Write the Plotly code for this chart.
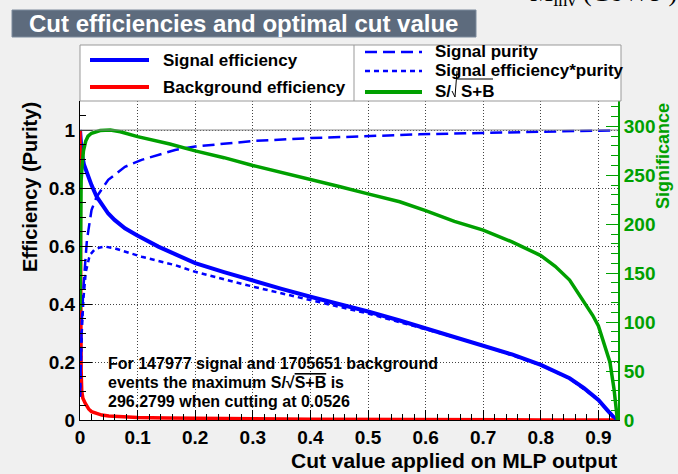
import plotly.graph_objects as go

# ---- figure geometry (pixels) ----
W, H = 678, 474
ML, MR, MT, MB = 80, 60, 101, 54


def px(x):
    return (x - ML) / (W - ML - MR)


def py(y):
    return (H - MB - y) / (H - MT - MB)


# ---- data: cut scan on MLP output ----
sig_eff_x = [0, 0.001, 0.003, 0.007, 0.014, 0.02, 0.029, 0.04, 0.049, 0.06, 0.078,
             0.098, 0.136, 0.165, 0.2, 0.25, 0.3, 0.35, 0.4, 0.45, 0.5, 0.555, 0.6,
             0.65, 0.7, 0.75, 0.8, 0.85, 0.875, 0.9, 0.915, 0.925, 0.931]
sig_eff_y = [1.0, 0.96, 0.919, 0.88, 0.839, 0.81, 0.77, 0.735, 0.712, 0.69, 0.661,
             0.638, 0.598, 0.572, 0.541, 0.51, 0.48, 0.452, 0.425, 0.4, 0.374, 0.343, 0.316,
             0.288, 0.259, 0.226, 0.19, 0.144, 0.11, 0.069, 0.035, 0.011, 0.0]

bkg_eff_x = [0, 0.0005, 0.001, 0.002, 0.003, 0.005, 0.009, 0.015, 0.02, 0.03, 0.038,
             0.05, 0.078, 0.1, 0.15, 0.2, 0.3, 0.4, 0.49, 0.5, 0.6, 0.7, 0.8, 0.931]
bkg_eff_y = [1.0, 0.6, 0.35, 0.17, 0.1, 0.075, 0.058, 0.038, 0.029, 0.021, 0.017,
             0.014, 0.011, 0.009, 0.007, 0.005, 0.004, 0.003, 0.002, 0.001, 0.0005, 0.0003, 0.0001, 0.0]

purity_x = [0, 0.0005, 0.001, 0.003, 0.006, 0.012, 0.02, 0.029, 0.049, 0.078, 0.107,
            0.165, 0.2, 0.3, 0.4, 0.5, 0.589, 0.7, 0.8, 0.9, 0.931]
purity_y = [0.08, 0.14, 0.2, 0.33, 0.46, 0.62, 0.724, 0.77, 0.828, 0.873, 0.897,
            0.931, 0.943, 0.962, 0.972, 0.98, 0.985, 0.99, 0.993, 0.997, 0.999]

effpur_x = [0, 0.001, 0.003, 0.006, 0.01, 0.017, 0.025, 0.035, 0.043, 0.06, 0.078,
            0.107, 0.165, 0.2, 0.3, 0.4, 0.5, 0.6, 0.7, 0.8, 0.85, 0.9, 0.925, 0.931]
effpur_y = [0.08, 0.19, 0.3, 0.42, 0.51, 0.569, 0.587, 0.595, 0.598, 0.592, 0.58,
            0.563, 0.534, 0.511, 0.46, 0.413, 0.367, 0.313, 0.257, 0.189, 0.143, 0.069, 0.011, 0.0]

signif_x = [0, 0.0005, 0.002, 0.004, 0.006, 0.01, 0.014, 0.02, 0.026, 0.035, 0.0526,
            0.07, 0.1, 0.156, 0.2, 0.25, 0.3, 0.35, 0.4, 0.45, 0.5, 0.555, 0.6, 0.65,
            0.7, 0.75, 0.8, 0.825, 0.85, 0.875, 0.89, 0.9, 0.911, 0.92, 0.927, 0.933]
signif_y = [112, 207, 245, 262, 275, 285, 290, 293, 294.5, 295.8, 296.28,
            294.5, 289.5, 282, 275, 268, 260, 253, 246, 238.5, 231, 223, 214, 203,
            194, 182, 168, 157, 143, 121, 107, 96, 76, 59, 32, 0]

n_signal = 147977
n_background = 1705651
max_signif = 296.2799
best_cut = 0.0526

x_max = 0.934
signif_max = 1.1 * max_signif

BLUE = "#0000ff"
RED = "#ff0000"
GREEN = "#00a000"
FONT = "Liberation Sans"

fig = go.Figure()
fig.add_trace(go.Scatter(x=sig_eff_x, y=sig_eff_y, mode="lines", name="Signal efficiency",
                         line=dict(color=BLUE, width=4)))
fig.add_trace(go.Scatter(x=bkg_eff_x, y=bkg_eff_y, mode="lines", name="Background efficiency",
                         line=dict(color=RED, width=3.5)))
fig.add_trace(go.Scatter(x=purity_x, y=purity_y, mode="lines", name="Signal purity",
                         line=dict(color=BLUE, width=2.5, dash="12px,6px")))
fig.add_trace(go.Scatter(x=effpur_x, y=effpur_y, mode="lines", name="Signal efficiency*purity",
                         line=dict(color=BLUE, width=2.5, dash="5px,4px")))
fig.add_trace(go.Scatter(x=signif_x, y=signif_y, mode="lines", name="S/sqrt(S+B)",
                         line=dict(color=GREEN, width=3.5), yaxis="y2"))

tickfont = dict(family=FONT, size=19, color="black", weight="bold")

fig.update_layout(
    width=W, height=H,
    margin=dict(l=ML, r=MR, t=MT, b=MB),
    paper_bgcolor="#f0f0f0",
    plot_bgcolor="white",
    showlegend=False,
    xaxis=dict(range=[0, x_max], tick0=0, dtick=0.1, ticks="inside", ticklen=10,
               tickcolor="black", showline=True, linecolor="black", linewidth=1,
               showgrid=True, gridcolor="#444", griddash="1px,2px", gridwidth=1,
               zeroline=False, tickfont=tickfont,
               minor=dict(dtick=0.02, ticks="inside", ticklen=6, tickcolor="black", showgrid=False)),
    yaxis=dict(range=[0, 1.1], tick0=0, dtick=0.2, ticks="inside", ticklen=12,
               tickcolor="black", showline=True, linecolor="black", linewidth=1,
               showgrid=True, gridcolor="#444", griddash="1px,2px", gridwidth=1,
               zeroline=False, tickfont=tickfont,
               minor=dict(dtick=0.05, ticks="inside", ticklen=6, tickcolor="black", showgrid=False)),
    yaxis2=dict(range=[0, signif_max], tick0=0, dtick=50, overlaying="y", side="right",
                ticks="inside", ticklen=12, tickcolor=GREEN, showline=True, linecolor=GREEN,
                linewidth=2, showgrid=False, zeroline=False,
                tickfont=dict(family=FONT, size=19, color=GREEN, weight="bold"),
                minor=dict(dtick=10, ticks="inside", ticklen=7, tickcolor=GREEN, showgrid=False)),
)

shapes = []
annotations = []

# reference line at efficiency = 1
shapes.append(dict(type="line", xref="paper", yref="y", x0=0, x1=1, y0=1, y1=1,
                   line=dict(color="#888", width=1)))

# title box
shapes.append(dict(type="rect", xref="paper", yref="paper", x0=px(12), x1=px(476),
                   y0=py(37), y1=py(10), fillcolor="#5D6B7D", line=dict(color="#7D8B9D", width=1),
                   layer="above"))
annotations.append(dict(text="Cut efficiencies and optimal cut value", xref="paper", yref="paper",
                        x=px(27), y=py(23.5), xanchor="left", yanchor="middle", showarrow=False,
                        font=dict(family=FONT, size=24, color="white", weight="bold")))

# clipped caption from the page above
annotations.append(dict(text="M<sub>inv</sub> (GeV/c<sup>2</sup>)", xref="paper", yref="paper",
                        x=px(528), y=py(12), xanchor="left", yanchor="bottom", showarrow=False,
                        font=dict(family="Liberation Serif", size=26, color="black")))

# legend box
shapes.append(dict(type="rect", xref="paper", yref="paper", x0=px(80), x1=px(621),
                   y0=py(101), y1=py(45), fillcolor="white", line=dict(color="#999", width=1),
                   layer="above"))
shapes.append(dict(type="line", xref="paper", yref="paper", x0=px(354), x1=px(354),
                   y0=py(101), y1=py(45), line=dict(color="#999", width=1), layer="above"))

legend_items = [
    # (x0, x1, y, color, dash, width, label_x, label)
    (90, 149, 60, BLUE, "solid", 4, 161, "Signal efficiency"),
    (90, 149, 87, RED, "solid", 4, 161, "Background efficiency"),
    (365, 422, 52, BLUE, "12px,6px", 2.5, 433, "Signal purity"),
    (365, 422, 71, BLUE, "5px,4px", 2.5, 433, "Signal efficiency*purity"),
    (365, 422, 92, GREEN, "solid", 4, 433, "S/"),
]
legend_font = dict(family=FONT, size=17, color="black", weight="bold")
for x0, x1, yy, col, dash, wid, lx, lab in legend_items:
    shapes.append(dict(type="line", xref="paper", yref="paper", x0=px(x0), x1=px(x1),
                       y0=py(yy), y1=py(yy), line=dict(color=col, width=wid, dash=dash),
                       layer="above"))
    annotations.append(dict(text=lab, xref="paper", yref="paper", x=px(lx), y=py(yy),
                            xanchor="left", yanchor="middle", showarrow=False, font=legend_font))
annotations.append(dict(text="S+B", xref="paper", yref="paper", x=px(459), y=py(92),
                        xanchor="left", yanchor="middle", showarrow=False, font=legend_font))
# radical sign of the legend label
shapes.append(dict(type="path", xref="paper", yref="paper", layer="above",
                   path=f"M {px(452)} {py(91)} L {px(455)} {py(97)} L {px(457)} {py(71)}",
                   line=dict(color="black", width=1)))
shapes.append(dict(type="line", xref="paper", yref="paper", x0=px(457), x1=px(493),
                   y0=py(79), y1=py(79), line=dict(color="black", width=1), layer="above"))

# summary text inside the frame
info_font = dict(family=FONT, size=16, color="black", weight="bold")
info_lines = [
    f"For {n_signal} signal and {n_background} background",
    "events the maximum S/√<span style='text-decoration:overline'>S+B</span> is",
    f"{max_signif:.4f} when cutting at {best_cut:.4f}",
]
for i, line in enumerate(info_lines):
    annotations.append(dict(text=line, xref="paper", yref="paper", x=px(106), y=py(363 + 19 * i),
                            xanchor="left", yanchor="middle", showarrow=False, font=info_font))

# axis titles
annotations.append(dict(text="Cut value applied on MLP output", xref="paper", yref="paper",
                        x=px(619), y=py(460), xanchor="right", yanchor="middle", showarrow=False,
                        font=dict(family=FONT, size=21, color="black", weight="bold")))
annotations.append(dict(text="Efficiency (Purity)", xref="paper", yref="paper", textangle=-90,
                        x=px(30), y=py(100), xanchor="center", yanchor="top", showarrow=False,
                        font=dict(family=FONT, size=20, color="black", weight="bold")))
annotations.append(dict(text="Significance", xref="paper", yref="paper", textangle=-90,
                        x=px(663), y=py(101), xanchor="center", yanchor="top", showarrow=False,
                        font=dict(family=FONT, size=18, color=GREEN, weight="bold")))

fig.update_layout(shapes=shapes, annotations=annotations)
fig.write_html("out.html")
